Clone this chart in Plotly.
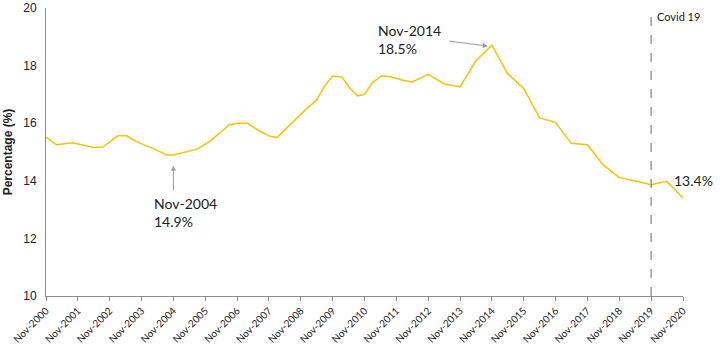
import plotly.graph_objects as go

dates = ["2000-11-01", "2001-03-01", "2001-09-01", "2002-05-01", "2002-08-15", "2003-02-01",
         "2003-05-15", "2003-09-01", "2004-04-01", "2004-08-15", "2004-11-01", "2005-08-01",
         "2006-01-01", "2006-08-01", "2006-11-01", "2007-03-01", "2007-07-15", "2007-11-01",
         "2008-02-01", "2008-05-15", "2008-08-15", "2009-01-01", "2009-05-01", "2009-08-01",
         "2009-11-01", "2010-02-15", "2010-05-15", "2010-08-15", "2010-11-01", "2011-02-01",
         "2011-05-15", "2011-08-15", "2012-01-15", "2012-05-01", "2012-11-01", "2013-05-01",
         "2013-11-01", "2014-05-01", "2014-11-01", "2015-05-01", "2015-11-01", "2016-05-01",
         "2016-11-01", "2017-05-01", "2017-11-01", "2018-05-01", "2018-11-01", "2019-04-01",
         "2019-11-01", "2020-05-01", "2020-11-01"]
values = [15.52, 15.25, 15.32, 15.16, 15.17, 15.56,
          15.56, 15.36, 15.10, 14.90, 14.90, 15.10,
          15.39, 15.94, 16.00, 16.00, 15.73, 15.56,
          15.50, 15.79, 16.08, 16.49, 16.80, 17.29,
          17.64, 17.60, 17.23, 16.95, 17.00, 17.41,
          17.64, 17.62, 17.49, 17.43, 17.70, 17.37,
          17.26, 18.16, 18.71, 17.72, 17.21, 16.19,
          16.02, 15.30, 15.25, 14.55, 14.11, 14.02,
          13.86, 13.98, 13.40]

tick_vals = [f"{y}-11-01" for y in range(2000, 2021)]
tick_text = [f"Nov-{y}" for y in range(2000, 2021)]

covid_date = "2019-11-01"
covid_label = "Covid 19"

line_color = "#FFC000"
axis_color = "#8C8C8C"
ann_font = dict(family="Lato, Open Sans, sans-serif", size=14, color="#222222")

fig = go.Figure()
fig.add_trace(go.Scatter(x=dates, y=values, mode="lines",
                         line=dict(color=line_color, width=1.5), showlegend=False,
                         hoverinfo="x+y"))

fig.update_layout(
    width=720, height=345,
    margin=dict(l=46, r=37, t=8, b=49),
    plot_bgcolor="white", paper_bgcolor="white",
    xaxis=dict(type="date", range=["2000-11-01", "2020-11-01"], automargin=False,
               tickvals=tick_vals, ticktext=tick_text, tickangle=-45,
               showgrid=False, zeroline=False, showline=True, linecolor=axis_color,
               linewidth=1, ticks="outside", ticklen=4, tickcolor=axis_color,
               ticklabelstandoff=0,
               tickfont=dict(family="Lato, Open Sans, sans-serif", size=10, color="#222222")),
    yaxis=dict(range=[10, 20], tickvals=[10, 12, 14, 16, 18, 20], automargin=False,
               showgrid=False, zeroline=False, showline=True, linecolor=axis_color,
               linewidth=1, ticks="", ticklabelstandoff=6,
               tickfont=dict(family="Liberation Sans, Arial, sans-serif", size=12, color="#222222"),
               title=dict(text="<b>Percentage (%)</b>", standoff=8,
                          font=dict(family="Liberation Sans, Arial, sans-serif", size=12,
                                    color="#222222"))),
    shapes=[dict(type="line", xref="x", yref="paper", x0=covid_date, x1=covid_date,
                 y0=0, y1=1, line=dict(color="#666666", width=1, dash="dash"))],
)

# Covid label
fig.add_annotation(x=covid_date, y=1, xref="x", yref="paper", text=covid_label,
                   showarrow=False, xanchor="left", yanchor="top", xshift=4,
                   font=dict(family="Lato, Open Sans, sans-serif", size=11, color="#222222"))

# Nov-2014 peak annotation
fig.add_annotation(x="2014-09-15", y=18.68, xref="x", yref="y", text="",
                   showarrow=True, arrowhead=2, arrowsize=1, arrowwidth=1,
                   arrowcolor="#999999", ax=-40, ay=-5)
fig.add_annotation(x="2011-03-10", y=18.9, xref="x", yref="y",
                   text="Nov-2014<br>18.5%", showarrow=False, xanchor="left",
                   yanchor="middle", align="left", font=ann_font)

# Nov-2004 trough annotation
fig.add_annotation(x="2004-11-01", y=14.52, xref="x", yref="y", text="",
                   showarrow=True, arrowhead=2, arrowsize=1, arrowwidth=1,
                   arrowcolor="#999999", ax=0, ay=26)
fig.add_annotation(x="2004-02-25", y=12.91, xref="x", yref="y",
                   text="Nov-2004<br>14.9%", showarrow=False, xanchor="left",
                   yanchor="middle", align="left", font=ann_font)

# End label
fig.add_annotation(x="2020-11-01", y=14.0, xref="x", yref="y", text="13.4%",
                   showarrow=False, xanchor="center", yanchor="middle", xshift=10,
                   font=ann_font)

fig.write_html("out.html")
